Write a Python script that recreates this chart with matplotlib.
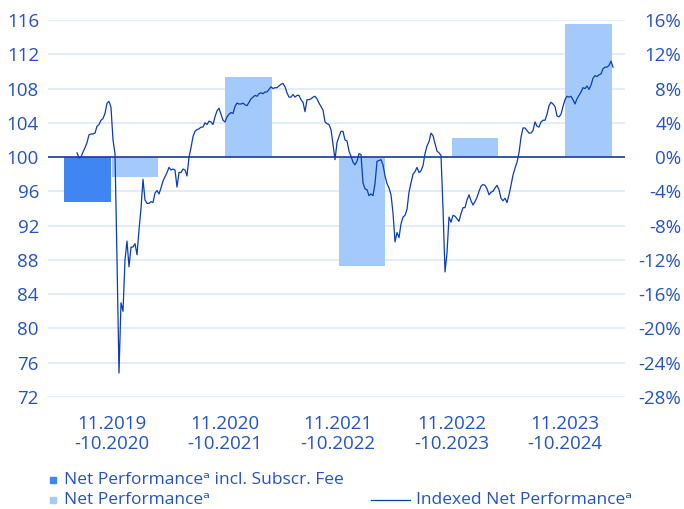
import numpy as np
import matplotlib
matplotlib.use("Agg")
import matplotlib.pyplot as plt
from matplotlib.lines import Line2D
from matplotlib.patches import Rectangle

plt.rcParams['font.family'] = ['Open Sans', 'DejaVu Sans']

# yearly periods and performance in %
periods = ['11.2019\n-10.2020', '11.2020\n-10.2021', '11.2021\n-10.2022',
           '11.2022\n-10.2023', '11.2023\n-10.2024']
perf_fee = [-5.2, np.nan, np.nan, np.nan, np.nan]
perf_net = [-2.3, 9.4, -12.7, 2.2, 15.5]

# indexed net performance (start = 100), roughly weekly readings
indexed = [
    100.5, 99.9, 100.0, 100.6, 101.1, 101.7, 102.6, 102.7, 102.7, 102.8,
    103.6, 103.8, 104.3, 104.5, 105.1, 106.3, 106.5, 105.8, 102.0, 100.4,
    88.0, 74.8, 83.0, 82.0, 88.0, 90.2, 87.2, 89.5, 89.5, 89.9,
    88.6, 91.5, 94.0, 97.4, 95.0, 94.6, 94.6, 94.8, 94.7, 95.8,
    96.1, 95.7, 96.4, 97.2, 97.7, 98.2, 98.8, 98.5, 98.6, 98.5,
    96.5, 98.2, 98.2, 98.6, 98.5, 97.8, 100.0, 101.1, 102.4, 103.0,
    103.2, 103.3, 103.5, 103.5, 104.0, 103.8, 104.2, 104.1, 103.8, 104.7,
    105.4, 105.7, 105.0, 104.3, 104.1, 104.7, 105.0, 105.2, 105.1, 105.9,
    106.3, 106.2, 106.2, 106.3, 106.1, 106.0, 106.4, 106.8, 107.0, 107.2,
    107.1, 107.4, 107.5, 107.4, 107.6, 107.6, 107.9, 108.2, 108.0, 108.1,
    108.1, 108.3, 108.5, 108.6, 108.2, 107.5, 107.0, 107.0, 107.3, 107.0,
    107.2, 107.2, 106.7, 106.4, 105.3, 106.7, 106.7, 106.8, 107.0, 107.1,
    106.8, 106.3, 105.9, 105.5, 104.1, 103.9, 103.8, 103.2, 101.5, 99.7,
    101.7, 102.4, 103.0, 103.0, 102.0, 101.9, 100.7, 100.1, 99.4, 99.1,
    99.5, 100.4, 100.3, 97.0, 96.3, 96.2, 95.5, 95.7, 95.5, 96.9,
    99.5, 99.6, 99.7, 99.1, 97.8, 96.9, 96.4, 95.6, 93.5, 90.1,
    91.2, 90.6, 92.2, 93.0, 93.2, 93.9, 95.9, 97.0, 98.0, 98.3,
    98.8, 98.2, 98.4, 99.0, 100.4, 101.3, 101.8, 102.8, 102.5, 101.6,
    100.7, 100.5, 100.2, 94.0, 86.6, 88.8, 93.0, 92.4, 93.2, 93.1,
    92.8, 92.5, 93.4, 94.1, 94.1, 95.0, 95.6, 94.9, 94.4, 94.8,
    95.3, 96.0, 96.6, 96.8, 96.7, 96.3, 95.6, 95.9, 96.0, 96.4,
    96.7, 96.2, 95.2, 94.9, 95.2, 94.7, 95.6, 96.7, 97.9, 98.7,
    99.4, 100.5, 102.3, 103.4, 103.4, 103.1, 102.8, 102.8, 103.1, 104.1,
    103.6, 103.5, 104.1, 104.3, 104.3, 105.0, 106.0, 106.4, 106.2, 105.9,
    104.8, 104.7, 105.0, 105.9, 106.7, 107.1, 107.0, 107.1, 106.7, 106.2,
    106.8, 107.2, 107.6, 108.1, 108.0, 108.3, 107.9, 108.4, 109.2, 109.5,
    109.4, 109.6, 109.7, 110.3, 110.5, 110.5, 110.7, 111.2, 110.5,
]

txt_col = '#2453c4'
dark_col = '#3f86f2'
light_col = '#a3cafa'
line_col = '#0b3db3'
grid_col = '#dfeafa'

fig = plt.figure(figsize=(6.84, 5.09), dpi=100)
rect = [48/684, 1 - 397/509, 577/684, 377/509]
tfs = 13.5

# bars + right axis (percent)
ax = fig.add_axes(rect)
x = np.arange(len(periods))
w = 0.41
ax.bar(x - 0.21, perf_fee, w, color=dark_col, zorder=2)
ax.bar(x + 0.21, perf_net, w, color=light_col, zorder=2)
ax.axhline(0, color='#1d3d98', lw=1.2, zorder=3)
ax.set_ylim(-28, 16)
ax.set_xlim(-0.56, 4.532)
ax.set_yticks(np.arange(-28, 17, 4))
ax.set_yticklabels([f'{v}%' for v in range(-28, 17, 4)])
ax.yaxis.tick_right()
ax.grid(axis='y', color=grid_col, lw=1.3, zorder=0)
ax.set_axisbelow(True)
ax.set_xticks(x)
ax.set_xticklabels(periods, linespacing=1.15)
ax.tick_params(axis='y', length=0, pad=40.5, labelsize=tfs, labelcolor=txt_col)
ax.tick_params(axis='x', length=0, pad=13, labelsize=tfs, labelcolor=txt_col)
for lab in ax.get_yticklabels():
    lab.set_horizontalalignment('right')
for s in ax.spines.values():
    s.set_visible(False)

# indexed line + left axis
ax2 = fig.add_axes(rect, frameon=False)
ax2.patch.set_alpha(0)
ax2.plot(np.arange(len(indexed)), indexed, color=line_col, lw=0.9)
ax2.set_ylim(72, 116)
ax2.set_xlim(-14.5, len(indexed) - 1 + 6)
ax2.set_yticks(np.arange(72, 117, 4))
ax2.set_xticks([])
ax2.tick_params(axis='y', length=0, pad=6.5, labelsize=tfs, labelcolor=txt_col)

# legend
fs = 12.5
fig.add_artist(Rectangle((50/684, 1 - 483/509), 6/684, 6/509, color=dark_col))
fig.text(64/684, 1 - 480/509, 'Net Performanceᵃ incl. Subscr. Fee', color=txt_col,
         fontsize=fs, va='center')
fig.add_artist(Rectangle((50/684, 1 - 503/509), 6/684, 6/509, color=light_col))
fig.text(64/684, 1 - 500/509, 'Net Performanceᵃ', color=txt_col, fontsize=fs, va='center')
fig.add_artist(Line2D([371/684, 410/684], [1 - 500/509, 1 - 500/509], color=line_col, lw=0.9))
fig.text(416/684, 1 - 500/509, 'Indexed Net Performanceᵃ', color=txt_col, fontsize=fs,
         va='center')

fig.savefig('out.png', dpi=100)
